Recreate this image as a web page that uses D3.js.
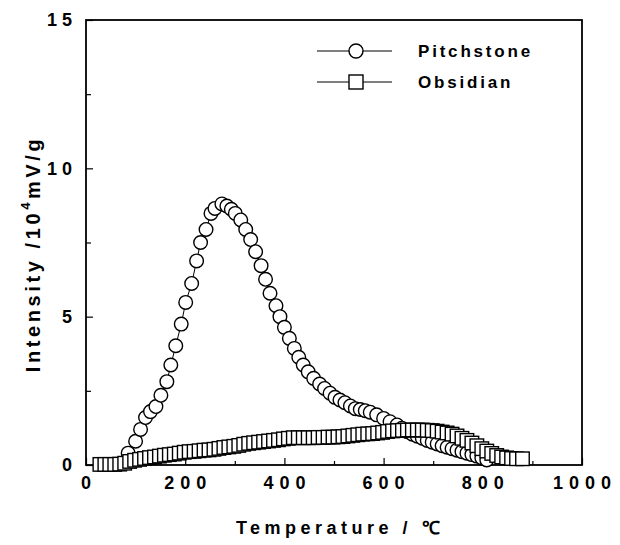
<!DOCTYPE html>
<html>
<head>
<meta charset="utf-8">
<script src="https://cdn.jsdelivr.net/npm/d3@7"></script>
<style>
  body { margin: 0; background: #fff; }
  text { font-family: "Liberation Sans", Arial, sans-serif; font-weight: bold; fill: #000; }
</style>
</head>
<body>
<div id="chart"></div>
<script>
// Pitchstone (circles)
const pitchTemp = [85, 100, 110, 120, 130, 141, 151, 163, 171, 181, 192, 201, 213, 223, 231, 242, 252, 260, 274, 284,
  293, 301, 312, 322, 332, 342, 353, 362, 371, 383, 391, 400, 410, 420, 429, 438, 448, 459, 471, 481,
  492, 502, 512, 522, 533, 543, 553, 563, 573, 586, 600, 613, 627, 637, 648, 658, 668, 678, 688, 698,
  708, 718, 728, 738, 748, 758, 768, 778, 788, 798, 808];
const pitchIntensity = [0.4, 0.8, 1.2, 1.6, 1.8, 1.97, 2.35, 2.81, 3.37, 4.02, 4.75, 5.48, 6.12, 6.88, 7.5, 7.94, 8.48, 8.65, 8.8, 8.73,
  8.62, 8.48, 8.26, 7.94, 7.6, 7.19, 6.72, 6.26, 5.79, 5.37, 5.0, 4.64, 4.27, 3.93, 3.63, 3.37, 3.14, 2.92, 2.73, 2.58,
  2.42, 2.28, 2.19, 2.1, 1.99, 1.9, 1.87, 1.83, 1.78, 1.69, 1.57, 1.46, 1.35, 1.24, 1.12, 1.04, 0.97, 0.9, 0.83, 0.77,
  0.71, 0.65, 0.6, 0.55, 0.5, 0.45, 0.4, 0.35, 0.3, 0.24, 0.17];

// Obsidian (squares)
const obsTemp = [28, 38, 48, 58, 68, 78, 88, 98, 108, 118, 128, 138, 148, 158, 168, 178, 188, 198, 208, 218,
  228, 238, 248, 258, 268, 278, 288, 298, 308, 318, 328, 338, 348, 358, 368, 378, 388, 398, 408, 418,
  428, 438, 448, 458, 468, 478, 488, 498, 508, 518, 528, 538, 548, 558, 568, 578, 588, 598, 608, 618,
  628, 638, 648, 658, 668, 678, 688, 698, 708, 718, 728, 738, 748, 758, 768, 778, 788, 798, 808, 818,
  828, 838, 848, 858, 868, 880];
const obsIntensity = [0.02, 0.02, 0.02, 0.02, 0.03, 0.06, 0.12, 0.16, 0.19, 0.22, 0.25, 0.27, 0.3, 0.33, 0.35, 0.37, 0.4, 0.43, 0.45, 0.46,
  0.48, 0.5, 0.51, 0.53, 0.56, 0.59, 0.61, 0.63, 0.66, 0.7, 0.73, 0.75, 0.77, 0.79, 0.81, 0.83, 0.85, 0.88, 0.9, 0.92,
  0.92, 0.92, 0.92, 0.92, 0.93, 0.93, 0.94, 0.94, 0.95, 0.96, 0.98, 1.0, 1.02, 1.04, 1.05, 1.06, 1.08, 1.1, 1.13, 1.15,
  1.16, 1.17, 1.18, 1.18, 1.18, 1.18, 1.17, 1.16, 1.14, 1.11, 1.08, 1.04, 0.98, 0.9, 0.83, 0.74, 0.65, 0.55, 0.47, 0.39,
  0.32, 0.27, 0.24, 0.22, 0.21, 0.21];

const xTicks = [0, 200, 400, 600, 800, 1000];
const xMinorTicks = [100, 300, 500, 700, 900];
const yTicks = [0, 5, 10, 15];
const yMinorTicks = [2.5, 7.5, 12.5];
const seriesNames = ["Pitchstone", "Obsidian"];

const margin = { top: 20, right: 38, bottom: 80, left: 86 };
const width = 620 - margin.left - margin.right;
const height = 545 - margin.top - margin.bottom;

const svg = d3.select("#chart").append("svg")
    .attr("width", 620)
    .attr("height", 545);

const g = svg.append("g")
    .attr("transform", `translate(${margin.left}, ${margin.top})`);

const x = d3.scaleLinear().domain([0, 1000]).range([0, width]);
const y = d3.scaleLinear().domain([0, 15]).range([height, 0]);

// Ticks pointing inward
const xAxis = g.append("g").attr("transform", `translate(0, ${height})`);
xAxis.call(d3.axisBottom(x).tickValues(xTicks).tickSize(-7).tickFormat(""));
xAxis.append("g").call(d3.axisBottom(x).tickValues(xMinorTicks).tickSize(-4).tickFormat(""));
xAxis.selectAll(".domain").remove();
xAxis.selectAll("line").attr("stroke", "#000").attr("stroke-width", 1.2);

const yAxis = g.append("g");
yAxis.call(d3.axisLeft(y).tickValues(yTicks).tickSize(-7).tickFormat(""));
yAxis.append("g").call(d3.axisLeft(y).tickValues(yMinorTicks).tickSize(-5).tickFormat(""));
yAxis.selectAll(".domain").remove();
yAxis.selectAll("line").attr("stroke", "#000").attr("stroke-width", 1.2);

// Tick labels
g.selectAll(".x-label")
    .data(xTicks)
    .enter()
    .append("text")
    .attr("class", "x-label")
    .attr("x", d => x(d) + 3)
    .attr("y", height + 24)
    .attr("text-anchor", "middle")
    .style("font-size", "18px")
    .style("letter-spacing", "6px")
    .text(d => d);

g.selectAll(".y-label")
    .data(yTicks)
    .enter()
    .append("text")
    .attr("class", "y-label")
    .attr("x", -9)
    .attr("y", d => y(d))
    .attr("dy", "0.36em")
    .attr("text-anchor", "end")
    .style("font-size", "18px")
    .style("letter-spacing", "5px")
    .text(d => d);

// Frame
g.append("rect")
    .attr("width", width)
    .attr("height", height)
    .attr("fill", "none")
    .attr("stroke", "#000")
    .attr("stroke-width", 1.8);

const pitch = pitchTemp.map((t, i) => ({ t: t, v: pitchIntensity[i] }));
const obs = obsTemp.map((t, i) => ({ t: t, v: obsIntensity[i] }));

const line = d3.line().x(d => x(d.t)).y(d => y(d.v));

// Pitchstone
g.append("path")
    .datum(pitch)
    .attr("fill", "none")
    .attr("stroke", "#000")
    .attr("stroke-width", 1)
    .attr("d", line);

g.selectAll(".pitch-dot")
    .data(pitch)
    .enter()
    .append("circle")
    .attr("class", "pitch-dot")
    .attr("cx", d => x(d.t))
    .attr("cy", d => y(d.v))
    .attr("r", 6.8)
    .attr("fill", "#fff")
    .attr("stroke", "#000")
    .attr("stroke-width", 1.4);

// Obsidian
g.append("path")
    .datum(obs)
    .attr("fill", "none")
    .attr("stroke", "#000")
    .attr("stroke-width", 1)
    .attr("d", line);

const sq = 13.5;
g.selectAll(".obs-dot")
    .data(obs)
    .enter()
    .append("rect")
    .attr("class", "obs-dot")
    .attr("x", d => x(d.t) - sq / 2)
    .attr("y", d => y(d.v) - sq / 2)
    .attr("width", sq)
    .attr("height", sq)
    .attr("fill", "#fff")
    .attr("stroke", "#000")
    .attr("stroke-width", 1.4);

// Legend
const legend = svg.append("g").attr("class", "legend");
seriesNames.forEach((name, i) => {
    const ly = 51 + i * 31;
    legend.append("line")
        .attr("x1", 317).attr("x2", 392)
        .attr("y1", ly).attr("y2", ly)
        .attr("stroke", "#000").attr("stroke-width", 1.2);
    if (i === 0) {
        legend.append("circle")
            .attr("cx", 356).attr("cy", ly).attr("r", 7)
            .attr("fill", "#fff").attr("stroke", "#000").attr("stroke-width", 1.4);
    } else {
        legend.append("rect")
            .attr("x", 349).attr("y", ly - 7).attr("width", 14).attr("height", 14)
            .attr("fill", "#fff").attr("stroke", "#000").attr("stroke-width", 1.4);
    }
    legend.append("text")
        .attr("x", 418)
        .attr("y", ly + 6)
        .style("font-size", "17px")
        .style("letter-spacing", "2.8px")
        .text(name);
});

// Axis titles
svg.append("text")
    .attr("x", margin.left + width / 2 + 6)
    .attr("y", 534)
    .attr("text-anchor", "middle")
    .style("font-size", "18px")
    .style("letter-spacing", "4.5px")
    .text("Temperature / ℃");

const yTitle = svg.append("text")
    .attr("transform", "rotate(-90)")
    .attr("x", -254)
    .attr("y", 40)
    .attr("text-anchor", "middle")
    .style("font-size", "20px")
    .style("letter-spacing", "3.6px");
yTitle.append("tspan").text("Intensity /10");
yTitle.append("tspan").attr("dy", -10).style("font-size", "13px").text("4");
yTitle.append("tspan").attr("dy", 10).text("mV/g");
</script>
</body>
</html>
